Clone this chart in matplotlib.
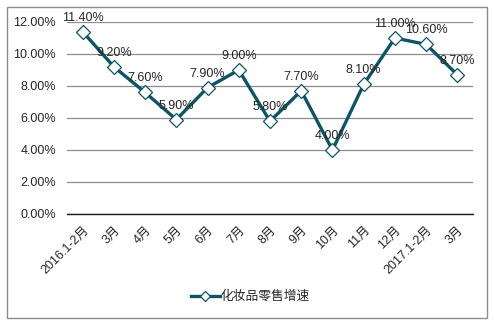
import matplotlib
matplotlib.use("Agg")
import matplotlib.pyplot as plt
from matplotlib.patches import Rectangle

plt.rcParams['font.family'] = ['Liberation Sans', 'Noto Sans CJK SC', 'DejaVu Sans']

categories = ['2016.1-2月', '3月', '4月', '5月', '6月', '7月', '8月', '9月',
              '10月', '11月', '12月', '2017.1-2月', '3月']
growth = [11.40, 9.20, 7.60, 5.90, 7.90, 9.00, 5.80, 7.70, 4.00, 8.10, 11.00, 10.60, 8.70]
series_name = '化妆品零售增速'
yticks = [0, 2, 4, 6, 8, 10, 12]

line_color = '#0E5468'
text_color = '#262626'
fs = 9

fig = plt.figure(figsize=(4.94, 3.28), dpi=100)
fig.patch.set_facecolor('white')
fig.patches.append(Rectangle((7 / 494, 10 / 328), 480 / 494, 311 / 328,
                             transform=fig.transFigure, fill=False,
                             edgecolor='#8C8C8C', linewidth=1.0))

ax = fig.add_axes([67 / 494, 1 - 214 / 328, 406 / 494, 192 / 328])
x = list(range(len(categories)))
ax.plot(x, growth, color=line_color, linewidth=2.4, marker='D', markersize=7,
        markerfacecolor='white', markeredgecolor=line_color, markeredgewidth=0.9,
        label=series_name, zorder=3)

for xi, v in zip(x, growth):
    ax.annotate(f'{v:.2f}%', (xi, v), textcoords='offset pixels', xytext=(0, 8),
                ha='center', va='bottom', fontsize=fs, color=text_color)

ax.set_xlim(-0.5, len(categories) - 0.5)
ax.set_ylim(0, 12)
ax.set_yticks(yticks)
ax.set_yticklabels([f'{t:.2f}%' for t in yticks], fontsize=fs, color=text_color)
ax.set_xticks(x)
ax.set_xticklabels(categories, rotation=45, ha='right', rotation_mode='anchor',
                   fontsize=fs, color=text_color)
ax.tick_params(axis='y', length=0, pad=8)
ax.tick_params(axis='x', length=0, pad=7)
ax.grid(axis='y', color='#8C8C8C', linewidth=0.9)
ax.set_axisbelow(True)
for s in ['left', 'right', 'top']:
    ax.spines[s].set_visible(False)
ax.spines['bottom'].set_color('#1A1A1A')
ax.spines['bottom'].set_linewidth(1.0)

leg = fig.legend(loc='center', bbox_to_anchor=(250 / 494, 1 - 297 / 328), frameon=False,
                 fontsize=9.2, handlelength=2.3, handletextpad=0.0, markerscale=0.75)
for t in leg.get_texts():
    t.set_color(text_color)

fig.savefig('out.png', dpi=100, facecolor='white')
